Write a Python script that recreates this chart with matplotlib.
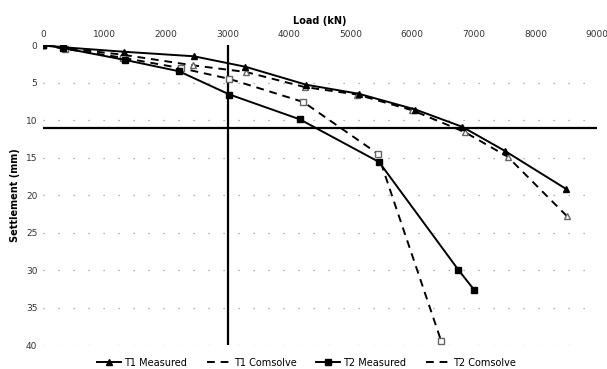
import matplotlib
matplotlib.use("Agg")
import matplotlib.pyplot as plt
from matplotlib.lines import Line2D

# Data (Load kN, Settlement mm)
t1_meas_load = [0, 330, 1320, 2450, 3290, 4280, 5130, 6050, 6810, 7500, 8500]
t1_meas_set = [0, 0.3, 0.9, 1.5, 2.9, 5.3, 6.5, 8.6, 10.9, 14.1, 19.2]

t1_com_load = [0, 350, 1300, 2430, 3300, 4250, 5100, 6000, 6850, 7550, 8510]
t1_com_set = [0, 0.4, 1.3, 2.7, 3.6, 5.6, 6.6, 8.7, 11.6, 14.9, 22.8]

t2_meas_load = [0, 330, 1340, 2210, 3030, 4170, 5460, 6750, 7010]
t2_meas_set = [0, 0.4, 2.0, 3.5, 6.6, 9.9, 15.6, 30.0, 32.7]

t2_com_load = [0, 350, 1300, 2250, 3020, 4230, 5440, 6470]
t2_com_set = [0, 0.5, 1.7, 3.1, 4.5, 7.6, 14.5, 39.5]

ref_load = 3000
ref_set = 11

x_ticks = [0, 1000, 2000, 3000, 4000, 5000, 6000, 7000, 8000, 9000]
y_ticks = [0, 5, 10, 15, 20, 25, 30, 35, 40]

fig = plt.figure(figsize=(6.07, 3.69), dpi=100)
ax = fig.add_axes([0.0708, 0.065, 0.9127, 0.813])

ax.set_xlim(0, 9000)
ax.set_ylim(40, 0)

for y in y_ticks[1:]:
    ax.axhline(y, color='#999999', lw=0.9, ls=(0, (1, 11)), zorder=0)

ax.axhline(ref_set, color='black', lw=1.6, zorder=1)
ax.axvline(ref_load, color='black', lw=1.6, zorder=1)

ax.plot(t1_meas_load, t1_meas_set, color='black', lw=1.4, marker='^', ms=5, zorder=3)
ax.plot(t1_com_load, t1_com_set, color='black', lw=1.4, ls=(0, (4, 3)), marker='^', ms=4,
        mfc='white', mec='#666666', zorder=2)
ax.plot(t2_meas_load, t2_meas_set, color='black', lw=1.4, marker='s', ms=5, zorder=3)
ax.plot(t2_com_load, t2_com_set, color='black', lw=1.4, ls=(0, (4, 3)), marker='s', ms=4,
        mfc='white', mec='#666666', zorder=2)

ax.xaxis.tick_top()
ax.xaxis.set_label_position('top')
ax.set_xticks(x_ticks)
ax.set_yticks(y_ticks)
ax.tick_params(axis='both', length=0, labelsize=6.5, colors='#333333', pad=4)
for s in ax.spines.values():
    s.set_visible(False)

ax.set_xlabel('Load (kN)', fontsize=7, fontweight='bold', labelpad=5)
ax.set_ylabel('Settlement (mm)', fontsize=7, fontweight='bold', labelpad=4)

handles = [
    Line2D([], [], color='black', lw=1.4, marker='^', ms=5),
    Line2D([], [], color='black', lw=1.4, ls=(0, (4, 3))),
    Line2D([], [], color='black', lw=1.4, marker='s', ms=5),
    Line2D([], [], color='black', lw=1.4, ls=(0, (4, 3))),
]
labels = ['T1 Measured', 'T1 Comsolve', 'T2 Measured', 'T2 Comsolve']
fig.legend(handles, labels, loc='center', bbox_to_anchor=(0.505, 0.017), ncol=4,
           frameon=False, fontsize=7, handlelength=2.5, handletextpad=0.3,
           columnspacing=2.0, borderpad=0)

fig.savefig('out.png', dpi=100)
